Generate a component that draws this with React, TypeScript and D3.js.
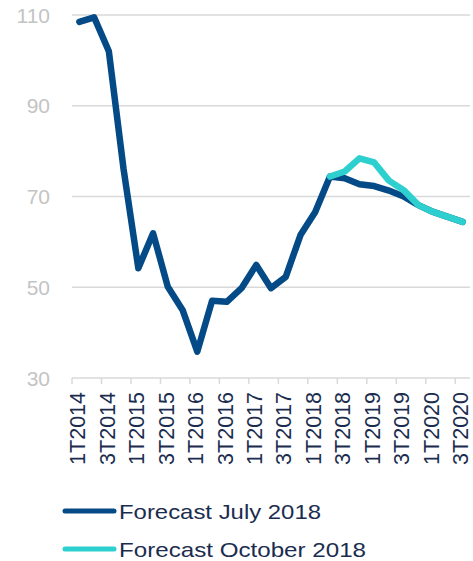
import React, { useEffect, useRef } from "react";
import * as d3 from "d3";

const quarters = [
  "1T2014", "2T2014", "3T2014", "4T2014",
  "1T2015", "2T2015", "3T2015", "4T2015",
  "1T2016", "2T2016", "3T2016", "4T2016",
  "1T2017", "2T2017", "3T2017", "4T2017",
  "1T2018", "2T2018", "3T2018", "4T2018",
  "1T2019", "2T2019", "3T2019", "4T2019",
  "1T2020", "2T2020", "3T2020",
];

const julyForecast = [
  108.5, 109.5, 102, 76, 54.2, 61.9, 50.1, 45, 35.8, 47, 46.8, 49.8, 54.9, 49.8,
  52.3, 61.5, 66.6, 74.4, 74.0, 72.7, 72.3, 71.3, 70.0, 68.1, 66.6, 65.5, 64.4,
];

// october forecast starts at 2T2018
const octoberForecast = [
  null, null, null, null, null, null, null, null, null, null, null, null, null, null,
  null, null, null, 74.4, 75.5, 78.4, 77.5, 73.5, 71.4, 68.1, 66.6, 65.5, 64.4,
];

const yTicks = [30, 50, 70, 90, 110];

const series = [
  { name: "Forecast July 2018", values: julyForecast, color: "#044a86" },
  { name: "Forecast October 2018", values: octoberForecast, color: "#2ecfcf" },
];

const App = () => {
  const ref = useRef(null);

  useEffect(() => {
    const width = 473, height = 561;
    const svg = d3.select(ref.current).attr("width", width).attr("height", height);
    svg.selectAll("*").remove();

    const left = 72, right = 470, top = 15, bottom = 378;

    const x = d3.scaleBand().domain(quarters).range([left, right]).padding(0);
    const y = d3.scaleLinear().domain([30, 110]).range([bottom, top]);
    const cx = (q) => x(q) + x.bandwidth() / 2;

    // gridlines
    svg.append("g")
      .selectAll("line")
      .data(yTicks.filter(t => t !== 30))
      .enter()
      .append("line")
      .attr("x1", left)
      .attr("x2", right)
      .attr("y1", d => y(d))
      .attr("y2", d => y(d))
      .attr("stroke", "#d9d9d9")
      .attr("stroke-width", 1.5);

    // y labels
    svg.append("g")
      .selectAll("text")
      .data(yTicks)
      .enter()
      .append("text")
      .attr("x", 50)
      .attr("y", d => y(d))
      .attr("dy", "0.36em")
      .attr("text-anchor", "end")
      .attr("font-family", "Liberation Sans, Arial, sans-serif")
      .attr("font-size", 21)
      .attr("fill", "#c4c4c4")
      .text(d => d);

    // x axis line and ticks (between categories, every second one)
    svg.append("line")
      .attr("x1", left).attr("x2", right)
      .attr("y1", bottom).attr("y2", bottom)
      .attr("stroke", "#d9d9d9").attr("stroke-width", 1.5);

    const labelled = quarters.filter((q, i) => i % 2 === 0);
    svg.append("g")
      .selectAll("line")
      .data(labelled)
      .enter()
      .append("line")
      .attr("x1", d => x(d)).attr("x2", d => x(d))
      .attr("y1", bottom).attr("y2", bottom + 6)
      .attr("stroke", "#d9d9d9").attr("stroke-width", 1.5);

    svg.append("g")
      .selectAll("text")
      .data(labelled)
      .enter()
      .append("text")
      .attr("transform", d => `translate(${cx(d) - 2},${bottom + 14}) rotate(-90)`)
      .attr("dy", "0.36em")
      .attr("text-anchor", "end")
      .attr("font-family", "Liberation Sans, Arial, sans-serif")
      .attr("font-size", 21.5)
      .attr("fill", "#1b2d4f")
      .text(d => d);

    // lines
    const line = d3.line()
      .defined(d => d.v != null)
      .x(d => cx(d.q))
      .y(d => y(d.v));

    series.forEach(s => {
      svg.append("path")
        .datum(quarters.map((q, i) => ({ q, v: s.values[i] })))
        .attr("d", line)
        .attr("fill", "none")
        .attr("stroke", s.color)
        .attr("stroke-width", 6.5)
        .attr("stroke-linejoin", "round")
        .attr("stroke-linecap", "round");
    });

    // legend
    const legend = svg.append("g")
      .selectAll("g")
      .data(series)
      .enter()
      .append("g")
      .attr("transform", (d, i) => `translate(0,${511 + i * 38})`);

    legend.append("line")
      .attr("x1", 65).attr("x2", 114)
      .attr("stroke", d => d.color)
      .attr("stroke-width", 5)
      .attr("stroke-linecap", "round");

    legend.append("text")
      .attr("x", 119)
      .attr("dy", "0.36em")
      .attr("font-family", "Liberation Sans, Arial, sans-serif")
      .attr("font-size", 21)
      .attr("fill", "#1b2d4f")
      .attr("textLength", (d, i) => (i === 0 ? 202 : 247))
      .attr("lengthAdjust", "spacingAndGlyphs")
      .text(d => d.name);
  }, []);

  return <svg ref={ref} style={{ position: "absolute", left: 0, top: 0 }}></svg>;
};

export default App;
